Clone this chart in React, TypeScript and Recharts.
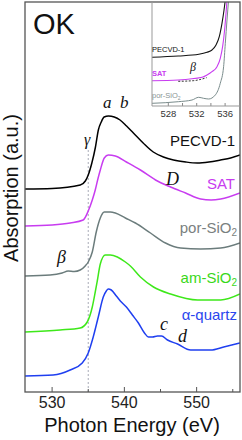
import React from 'react';
import { LineChart, Line, XAxis, YAxis, ReferenceLine } from 'recharts';

// photon energy (eV) / absorption (a.u., stacked with offsets)
const pecvdE = [526.25, 530, 533.9, 534.6, 535.0, 535.5, 536.0, 536.4, 536.8, 537.2, 537.8, 538.6, 539.4, 540.3, 541.25, 542.6, 544.0, 545.4, 546.8, 548.5, 550.1, 551.7, 553.3, 554.7, 556];
const pecvdAbs = [203, 203.5, 207, 211, 217, 229, 245, 262, 270, 275, 276, 275, 272, 266, 259, 249, 240, 235, 232, 230, 229, 230, 232, 234, 237];

const satE = [526.25, 530, 532.5, 534.3, 535.0, 535.56, 535.97, 536.3, 536.67, 537.22, 537.78, 538.75, 540.28, 542.22, 544.31, 546.39, 548.47, 550.56, 552, 553.33, 556];
const satAbs = [166, 167, 169, 172, 181, 192, 202, 212, 222, 234, 237, 236, 230, 222, 212, 205, 199, 193, 192, 193, 199];

const porE = [526.25, 529.72, 531.39, 532.22, 533.06, 533.89, 534.58, 535.0, 535.56, 536.11, 536.67, 537.22, 538.06, 538.75, 540.14, 541.53, 543.61, 545.69, 547.78, 550.56, 553.33, 556];
const porAbs = [116, 117, 119, 121, 120.5, 122, 126, 130, 140, 160, 174, 180, 180, 179, 174, 169, 159, 149, 144, 143, 144, 149];

const amE = [526.25, 531.11, 533.89, 534.86, 535.56, 535.97, 536.25, 536.67, 537.36, 538.06, 539.03, 540.14, 540.83, 542.22, 544.03, 546.39, 550.14, 553.33, 556];
const amAbs = [60, 62, 64, 70, 85, 100, 111, 128, 137, 137, 135, 130, 126, 115, 105, 98, 92, 92, 98];

const quartzE = [526.25, 530.14, 532.5, 534.17, 535.0, 535.69, 536.39, 537.08, 537.5, 537.78, 538.19, 538.89, 539.44, 540.28, 541.11, 541.94, 542.78, 543.33, 543.89, 544.58, 545.14, 545.97, 547.36, 549.17, 551.94, 553.75, 556];
const quartzAbs = [16, 17, 22, 29, 39, 55, 75, 95, 101, 103, 102, 96, 91, 85, 77, 69, 59, 55, 55, 56, 56, 52, 48, 42, 42, 45, 49];

// inset: pre-edge region
const insPecvdE = [525.7, 529.4, 532.3, 533.45, 534.15, 534.72, 535.18, 535.56, 535.85, 536.03, 536.2];
const insPecvdAbs = [48.7, 50, 51.7, 53.7, 56, 61, 69.3, 82.7, 96, 106, 112];
const insSatE = [525.7, 529.41, 532.75, 533.45, 534.15, 534.86, 535.32, 535.65, 535.93, 536.13, 536.27, 536.4];
const insSatAbs = [25.3, 26, 28.7, 31, 34.3, 39.3, 47.7, 59.3, 76, 92.7, 106, 118];
const insPorE = [525.7, 529.41, 531.34, 532.27, 532.97, 533.68, 534.62, 535.32, 535.79, 536.03, 536.27, 536.49, 536.7];
const insPorAbs = [2.7, 4.3, 6, 8.7, 7.7, 7, 11, 22.7, 39.3, 62.7, 86, 106, 125];
const insBaseE = [529.4, 531.5, 533.4];
const insBaseAbs = [24.7, 25.3, 28.3];

const mainTicks = [530, 535, 540, 545, 550, 555];
const insetTicks = [528, 530, 532, 534, 536];
const edgeLine = 535;

const zip = (e: number[], a: number[]) => e.map((v, i) => ({ e: v, abs: a[i] }));

const sans = 'Arial, "Liberation Sans", sans-serif';
const serif = '"Times New Roman", "Liberation Serif", serif';

const MainTick = (props: any) => {
  const { x, y, payload } = props;
  const major = payload.value % 10 === 0;
  return (
    <g>
      <line x1={x} x2={x} y1={y} y2={y - (major ? 5 : 3)} stroke="#555" />
      {major && (
        <text x={x} y={y + 16} textAnchor="middle" fontSize={16} fill="#222" fontFamily={sans}>
          {payload.value}
        </text>
      )}
    </g>
  );
};

const InsetTick = (props: any) => {
  const { x, y, payload } = props;
  const major = payload.value % 4 === 0;
  return (
    <g>
      <line x1={x} x2={x} y1={y} y2={y - 3} stroke="#888" />
      {major && (
        <text x={x} y={y + 11} textAnchor="middle" fontSize={9.5} fill="#333" fontFamily={sans}>
          {payload.value}
        </text>
      )}
    </g>
  );
};

export default function App() {
  return (
    <div style={{ position: 'fixed', left: 0, top: 0, width: 242, height: 440, background: '#fff' }}>
      <div style={{ position: 'absolute', left: 0, top: 0 }}>
        <LineChart width={242} height={440} margin={{ top: 2, right: 2, bottom: 0, left: 25 }}>
          <XAxis
            type="number"
            dataKey="e"
            domain={[526.25, 556]}
            ticks={mainTicks}
            interval={0}
            height={48}
            tickSize={0}
            tickMargin={0}
            axisLine={false}
            tickLine={false}
            tick={<MainTick />}
            allowDataOverflow
          />
          <YAxis type="number" domain={[0, 390]} hide allowDataOverflow />
          <ReferenceLine
            segment={[{ x: edgeLine, y: 0 }, { x: edgeLine, y: 242 }]}
            stroke="#a8acb8"
            strokeDasharray="2 2"
            strokeWidth={1}
          />
          <Line data={zip(pecvdE, pecvdAbs)} dataKey="abs" type="monotone" stroke="#000" strokeWidth={1.5} dot={false} isAnimationActive={false} />
          <Line data={zip(satE, satAbs)} dataKey="abs" type="monotone" stroke="#c83cf0" strokeWidth={1.5} dot={false} isAnimationActive={false} />
          <Line data={zip(porE, porAbs)} dataKey="abs" type="monotone" stroke="#6b7c7c" strokeWidth={1.5} dot={false} isAnimationActive={false} />
          <Line data={zip(amE, amAbs)} dataKey="abs" type="monotone" stroke="#3ee81a" strokeWidth={1.5} dot={false} isAnimationActive={false} />
          <Line data={zip(quartzE, quartzAbs)} dataKey="abs" type="monotone" stroke="#1f3ff0" strokeWidth={1.5} dot={false} isAnimationActive={false} />
        </LineChart>
      </div>

      <div style={{ position: 'absolute', left: 150, top: 0 }}>
        <LineChart width={92} height={122} margin={{ top: 2, right: 2, bottom: 2, left: 2 }}>
          <XAxis
            type="number"
            dataKey="e"
            domain={[525.7, 538.1]}
            ticks={insetTicks}
            interval={0}
            height={14}
            tickSize={0}
            tickMargin={0}
            axisLine={false}
            tickLine={false}
            tick={<InsetTick />}
            allowDataOverflow
          />
          <YAxis type="number" domain={[0, 104]} hide allowDataOverflow />
          <Line data={zip(insPecvdE, insPecvdAbs)} dataKey="abs" type="monotone" stroke="#111" strokeWidth={1.1} dot={false} isAnimationActive={false} />
          <Line data={zip(insSatE, insSatAbs)} dataKey="abs" type="monotone" stroke="#c83cf0" strokeWidth={1.1} dot={false} isAnimationActive={false} />
          <Line data={zip(insPorE, insPorAbs)} dataKey="abs" type="monotone" stroke="#7a8c8c" strokeWidth={1} dot={false} isAnimationActive={false} />
          <Line data={zip(insBaseE, insBaseAbs)} dataKey="abs" type="monotone" stroke="#333" strokeWidth={1} strokeDasharray="2 1.5" dot={false} isAnimationActive={false} />
        </LineChart>
      </div>

      <svg width={242} height={440} style={{ position: 'absolute', left: 0, top: 0, pointerEvents: 'none' }}>
        <rect x={25} y={2} width={215} height={390} fill="none" stroke="#555" strokeWidth={1.3} />
        <line x1={152} y1={2} x2={152} y2={106} stroke="#999" strokeWidth={1} />
        <line x1={152} y1={106} x2={240} y2={106} stroke="#999" strokeWidth={1} />

        <text x={33} y={34} fontSize={29} fontFamily={sans} fill="#111">OK</text>

        <g fontFamily={serif} fontStyle="italic" fill="#111">
          <text x={103} y={108} fontSize={17}>a</text>
          <text x={120} y={108} fontSize={17}>b</text>
          <text x={84} y={145} fontSize={16}>γ</text>
          <text x={166} y={185} fontSize={18}>D</text>
          <text x={57} y={263} fontSize={18}>β</text>
          <text x={160} y={330} fontSize={18}>c</text>
          <text x={178} y={342} fontSize={18}>d</text>
          <text x={190} y={71} fontSize={12}>β</text>
        </g>

        <g fontFamily={sans} fontSize={15} textAnchor="end">
          <text x={235} y={146} fill="#111">PECVD-1</text>
          <text x={235} y={189} fill="#c83cf0">SAT</text>
          <text x={237} y={233} fill="#7a7f80">
            por-SiO<tspan fontSize={10} dy={3}>2</tspan>
          </text>
          <text x={237} y={283} fill="#3ad81a">
            am-SiO<tspan fontSize={10} dy={3}>2</tspan>
          </text>
          <text x={237} y={320} fill="#2a46ee">α-quartz</text>
        </g>

        <g fontFamily={sans} fontSize={7.5}>
          <text x={152} y={51.5} fill="#111">PECVD-1</text>
          <text x={152} y={76} fill="#c83cf0" fontWeight="bold">SAT</text>
          <text x={152} y={98} fill="#8a9595">
            por-SiO<tspan fontSize={5} dy={2}>2</tspan>
          </text>
        </g>

        <text
          transform="translate(18,188) rotate(-90)"
          textAnchor="middle"
          fontSize={20}
          fontFamily={sans}
          fill="#111"
        >
          Absorption (a.u.)
        </text>
        <text x={132} y={432} textAnchor="middle" fontSize={20} fontFamily={sans} fill="#111">
          Photon Energy (eV)
        </text>
      </svg>
    </div>
  );
}
